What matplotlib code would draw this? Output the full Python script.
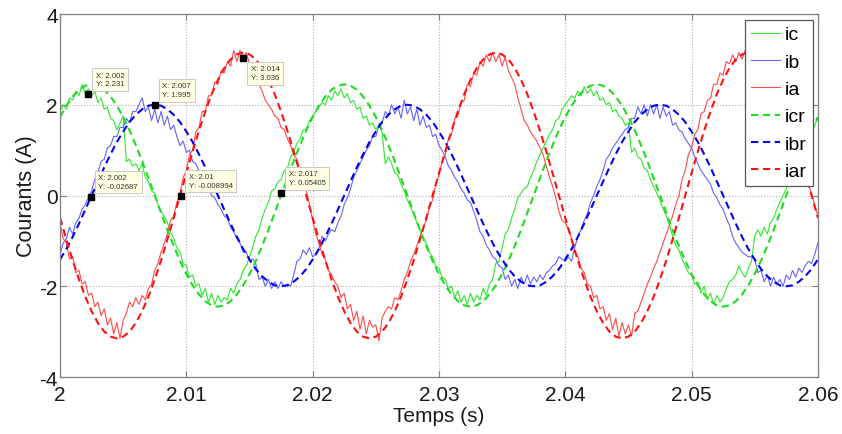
import numpy as np
import matplotlib
matplotlib.use("Agg")
import matplotlib.pyplot as plt

# ---------------- data ----------------
x_min, x_max = 2.0, 2.06
x_ticks = [2.0, 2.01, 2.02, 2.03, 2.04, 2.05, 2.06]
x_tick_labels = ["2", "2.01", "2.02", "2.03", "2.04", "2.05", "2.06"]
y_ticks = [-4, -2, 0, 2, 4]
y_tick_labels = ["-4", "-2", "0", "2", "4"]

# measured currents, one sample every 0.25 ms from 2.000 s to 2.060 s
ia = [
    -0.60, -0.95, -1.05, -1.40, -1.35, -1.70, -1.65, -1.95,
    -1.90, -2.20, -2.15, -2.45, -2.35, -2.65, -2.50, -2.85,
    -2.70, -3.05, -2.80, -3.15, -2.75, -2.60, -2.35, -2.45,
    -2.25, -2.40, -2.20, -2.30, -2.05, -1.95, -1.65, -1.50,
    -1.25, -1.05, -0.85, -0.55, -0.45, -0.15, 0.05, 0.40,
    0.55, 0.90, 1.00, 1.40, 1.50, 1.85, 1.85, 2.20,
    2.20, 2.50, 2.45, 2.75, 2.70, 2.95, 2.85, 3.20,
    2.95, 3.20, 3.05, 3.15, 2.90, 2.85, 2.60, 2.45,
    2.30, 2.10, 2.00, 1.90, 1.75, 1.70, 1.50, 1.45,
    1.25, 1.10, 0.90, 0.80, 0.55, 0.35, 0.10, -0.20,
    -0.55, -0.85, -1.05, -1.30, -1.40, -1.65, -1.75, -1.90,
    -2.00, -2.25, -2.15, -2.50, -2.40, -2.75, -2.55, -2.95,
    -2.65, -3.05, -2.75, -2.90, -2.85, -3.20, -2.70, -2.55,
    -2.45, -2.50, -2.25, -2.30, -2.10, -1.85, -1.70, -1.45,
    -1.30, -1.10, -0.90, -0.70, -0.55, -0.25, -0.10, 0.25,
    0.45, 0.75, 0.90, 1.25, 1.35, 1.70, 1.75, 2.05,
    2.10, 2.45, 2.40, 2.70, 2.65, 2.95, 2.85, 3.10,
    2.95, 3.15, 2.95, 3.10, 2.85, 3.05, 2.75, 2.60,
    2.45, 2.15, 1.90, 1.65, 1.55, 1.40, 1.30, 1.20,
    1.05, 0.90, 0.65, 0.40, 0.20, -0.05, -0.35, -0.55,
    -0.60, -0.75, -0.95, -1.25, -1.35, -1.60, -1.70, -1.95,
    -2.00, -2.25, -2.20, -2.50, -2.45, -2.75, -2.60, -2.95,
    -2.70, -3.10, -2.80, -3.05, -2.85, -3.10, -2.60, -2.55,
    -2.35, -2.15, -1.95, -1.80, -1.60, -1.45, -1.25, -1.05,
    -0.85, -0.65, -0.45, -0.20, 0.00, 0.35, 0.55, 0.90,
    1.05, 1.35, 1.45, 1.80, 1.85, 2.10, 2.15, 2.45,
    2.45, 2.70, 2.65, 2.95, 2.90, 3.10, 2.95, 3.15,
    3.00, 3.20, 3.00, 3.10, 2.85, 2.80, 2.55, 2.40,
    2.20, 2.05, 1.90, 1.75, 1.60, 1.50, 1.35, 1.20,
    1.05, 0.90, 0.70, 0.55, 0.40, 0.25, 0.05, -0.20,
    -0.45,
]
ib = [
    -1.30, -1.05, -0.95, -0.70, -0.85, -0.60, -0.50, -0.30,
    -0.20, -0.05, 0.10, 0.35, 0.50, 0.75, 0.80, 1.05,
    1.10, 1.30, 1.30, 1.50, 1.50, 1.70, 1.60, 1.85,
    1.85, 2.00, 2.15, 1.85, 1.95, 1.65, 1.90, 1.60,
    1.85, 1.55, 1.75, 1.45, 1.55, 1.30, 1.10, 1.20,
    0.95, 1.00, 0.75, 0.70, 0.55, 0.45, 0.25, 0.20,
    0.00, -0.05, -0.20, -0.30, -0.45, -0.50, -0.70, -0.80,
    -0.95, -1.05, -1.25, -1.25, -1.45, -1.40, -1.50, -1.85,
    -1.80, -2.00, -1.85, -2.05, -1.90, -2.05, -1.90, -2.00,
    -1.95, -2.00, -1.75, -1.45, -1.40, -1.20, -1.30, -1.15,
    -1.35, -1.30, -1.15, -0.90, -1.00, -0.85, -0.75, -0.80,
    -0.60, -0.45, -0.20, -0.05, 0.15, 0.40, 0.55, 0.70,
    0.85, 1.00, 1.10, 1.30, 1.30, 1.55, 1.60, 1.85,
    1.75, 2.00, 1.80, 1.95, 1.70, 2.10, 1.80, 1.95,
    1.65, 1.90, 1.55, 1.75, 1.50, 1.55, 1.30, 1.35,
    1.10, 1.00, 0.85, 0.65, 0.55, 0.40, 0.30, 0.15,
    0.05, -0.10, -0.15, -0.35, -0.55, -0.80, -0.90, -1.10,
    -1.20, -1.35, -1.40, -1.55, -1.60, -1.85, -1.75, -2.00,
    -1.85, -2.05, -1.80, -1.95, -1.75, -1.95, -1.80, -1.90,
    -1.75, -1.85, -1.70, -1.65, -1.55, -1.50, -1.35, -1.40,
    -1.45, -1.35, -1.45, -1.15, -0.90, -0.75, -0.55, -0.40,
    -0.15, 0.00, 0.20, 0.35, 0.55, 0.80, 0.90, 1.05,
    1.15, 1.25, 1.35, 1.45, 1.50, 1.70, 1.70, 1.95,
    1.80, 2.00, 1.75, 2.00, 1.80, 2.00, 1.70, 1.95,
    1.75, 1.85, 1.55, 1.60, 1.45, 1.40, 1.25, 1.15,
    1.05, 0.85, 0.70, 0.55, 0.45, 0.35, 0.25, 0.05,
    -0.05, -0.20, -0.30, -0.50, -0.65, -0.90, -1.05, -1.15,
    -1.25, -1.30, -1.35, -1.35, -1.40, -1.70, -1.65, -1.90,
    -1.75, -2.00, -1.80, -1.95, -1.85, -2.00, -1.75, -1.85,
    -1.65, -1.80, -1.60, -1.70, -1.55, -1.45, -1.50, -1.30,
    -1.05,
]
ic = [
    1.85, 2.00, 1.90, 2.15, 2.10, 2.30, 2.20, 2.45,
    2.25, 2.35, 2.20, 2.30, 2.05, 2.15, 1.90, 1.95,
    1.70, 1.65, 1.45, 1.60, 1.75, 0.75, 0.80, 0.65,
    0.70, 0.55, 0.70, 0.40, 0.30, 0.10, 0.05, -0.20,
    -0.35, -0.45, -0.60, -0.80, -0.95, -1.15, -1.25, -1.50,
    -1.55, -1.80, -1.75, -2.00, -1.95, -2.20, -2.05, -2.35,
    -2.15, -2.40, -2.20, -2.35, -2.25, -2.30, -2.05, -2.15,
    -1.95, -1.85, -1.65, -1.55, -1.35, -1.15, -0.90, -0.75,
    -0.50, -0.30, -0.15, 0.10, 0.15, 0.30, 0.35, 0.55,
    0.60, 0.85, 0.95, 1.15, 1.25, 1.45, 1.45, 1.65,
    1.75, 1.85, 1.95, 2.05, 2.00, 2.20, 2.10, 2.30,
    2.20, 2.35, 2.15, 2.25, 2.05, 2.10, 1.90, 1.95,
    1.70, 1.75, 1.55, 1.60, 1.45, 1.55, 1.40, 0.70,
    0.85, 0.70, 0.50, 0.45, 0.25, 0.10, -0.10, -0.25,
    -0.40, -0.60, -0.75, -0.95, -1.05, -1.25, -1.35, -1.55,
    -1.60, -1.80, -1.85, -2.05, -2.00, -2.25, -2.10, -2.35,
    -2.20, -2.40, -2.15, -2.35, -2.20, -2.30, -2.05, -2.20,
    -1.95, -1.85, -1.50, -1.45, -1.15, -0.85, -0.75, -0.50,
    -0.30, -0.05, 0.05, 0.15, 0.20, 0.40, 0.55, 0.75,
    0.90, 1.05, 1.20, 1.35, 1.45, 1.65, 1.70, 1.90,
    2.00, 2.10, 2.20, 2.15, 2.30, 2.20, 2.40, 2.25,
    2.35, 2.20, 2.30, 2.10, 2.15, 2.00, 2.05, 1.85,
    1.90, 1.75, 1.70, 1.55, 1.60, 0.95, 1.05, 0.85,
    0.80, 0.60, 0.55, 0.35, 0.20, 0.05, -0.10, -0.30,
    -0.45, -0.65, -0.90, -1.10, -1.20, -1.40, -1.55, -1.70,
    -1.75, -1.95, -1.90, -2.15, -2.00, -2.30, -2.15, -2.40,
    -2.20, -2.35, -2.25, -2.05, -1.90, -1.85, -1.75, -1.55,
    -1.70, -1.80, -1.60, -1.45, -0.90, -0.75, -0.90, -0.70,
    -0.85, -0.60, -0.50, -0.30, -0.15, 0.00, 0.15, 0.35,
    0.50, 0.70, 0.85, 1.00, 1.10, 1.30, 1.40, 1.55,
    1.70,
]

# reference currents, one sample every 0.5 ms from 2.000 s to 2.060 s
icr = [
    1.73, 1.98, 2.18, 2.33, 2.42, 2.45, 2.42, 2.33, 2.18, 1.98,
    1.73, 1.44, 1.11, 0.76, 0.38, 0.00, -0.38, -0.76, -1.11, -1.44,
    -1.73, -1.98, -2.18, -2.33, -2.42, -2.45, -2.42, -2.33, -2.18, -1.98,
    -1.73, -1.44, -1.11, -0.76, -0.38, 0.00, 0.38, 0.76, 1.11, 1.44,
    1.73, 1.98, 2.18, 2.33, 2.42, 2.45, 2.42, 2.33, 2.18, 1.98,
    1.73, 1.44, 1.11, 0.76, 0.38, 0.00, -0.38, -0.76, -1.11, -1.44,
    -1.73, -1.98, -2.18, -2.33, -2.42, -2.45, -2.42, -2.33, -2.18, -1.98,
    -1.73, -1.44, -1.11, -0.76, -0.38, 0.00, 0.38, 0.76, 1.11, 1.44,
    1.73, 1.98, 2.18, 2.33, 2.42, 2.45, 2.42, 2.33, 2.18, 1.98,
    1.73, 1.44, 1.11, 0.76, 0.38, 0.00, -0.38, -0.76, -1.11, -1.44,
    -1.73, -1.98, -2.18, -2.33, -2.42, -2.45, -2.42, -2.33, -2.18, -1.98,
    -1.73, -1.44, -1.11, -0.76, -0.38, 0.00, 0.38, 0.76, 1.11, 1.44,
    1.73,
]
ibr = [
    -1.41, -1.18, -0.91, -0.62, -0.31, 0.00, 0.31, 0.62, 0.91, 1.18,
    1.41, 1.62, 1.78, 1.90, 1.98, 2.00, 1.98, 1.90, 1.78, 1.62,
    1.41, 1.18, 0.91, 0.62, 0.31, 0.00, -0.31, -0.62, -0.91, -1.18,
    -1.41, -1.62, -1.78, -1.90, -1.98, -2.00, -1.98, -1.90, -1.78, -1.62,
    -1.41, -1.18, -0.91, -0.62, -0.31, 0.00, 0.31, 0.62, 0.91, 1.18,
    1.41, 1.62, 1.78, 1.90, 1.98, 2.00, 1.98, 1.90, 1.78, 1.62,
    1.41, 1.18, 0.91, 0.62, 0.31, 0.00, -0.31, -0.62, -0.91, -1.18,
    -1.41, -1.62, -1.78, -1.90, -1.98, -2.00, -1.98, -1.90, -1.78, -1.62,
    -1.41, -1.18, -0.91, -0.62, -0.31, 0.00, 0.31, 0.62, 0.91, 1.18,
    1.41, 1.62, 1.78, 1.90, 1.98, 2.00, 1.98, 1.90, 1.78, 1.62,
    1.41, 1.18, 0.91, 0.62, 0.31, 0.00, -0.31, -0.62, -0.91, -1.18,
    -1.41, -1.62, -1.78, -1.90, -1.98, -2.00, -1.98, -1.90, -1.78, -1.62,
    -1.41,
]
iar = [
    -0.49, -0.97, -1.43, -1.85, -2.23, -2.55, -2.81, -3.00, -3.11, -3.15,
    -3.11, -3.00, -2.81, -2.55, -2.23, -1.85, -1.43, -0.97, -0.49, 0.00,
    0.49, 0.97, 1.43, 1.85, 2.23, 2.55, 2.81, 3.00, 3.11, 3.15,
    3.11, 3.00, 2.81, 2.55, 2.23, 1.85, 1.43, 0.97, 0.49, 0.00,
    -0.49, -0.97, -1.43, -1.85, -2.23, -2.55, -2.81, -3.00, -3.11, -3.15,
    -3.11, -3.00, -2.81, -2.55, -2.23, -1.85, -1.43, -0.97, -0.49, 0.00,
    0.49, 0.97, 1.43, 1.85, 2.23, 2.55, 2.81, 3.00, 3.11, 3.15,
    3.11, 3.00, 2.81, 2.55, 2.23, 1.85, 1.43, 0.97, 0.49, 0.00,
    -0.49, -0.97, -1.43, -1.85, -2.23, -2.55, -2.81, -3.00, -3.11, -3.15,
    -3.11, -3.00, -2.81, -2.55, -2.23, -1.85, -1.43, -0.97, -0.49, 0.00,
    0.49, 0.97, 1.43, 1.85, 2.23, 2.55, 2.81, 3.00, 3.11, 3.15,
    3.11, 3.00, 2.81, 2.55, 2.23, 1.85, 1.43, 0.97, 0.49, 0.00,
    -0.49,
]

# data tips
tip_x = [2.00224, 2.0075, 2.0145, 2.00243, 2.00957, 2.0175]
tip_y = [2.231, 1.995, 3.036, -0.02687, -0.008994, 0.05405]
tip_labels = ["X: 2.002\nY: 2.231", "X: 2.007\nY: 1.995", "X: 2.014\nY: 3.036",
              "X: 2.002\nY: -0.02687", "X: 2.01\nY: -0.008994", "X: 2.017\nY: 0.05405"]
tip_below = [False, False, True, False, False, False]

t_meas = np.linspace(x_min, x_max, len(ia))
t_ref = np.linspace(x_min, x_max, len(iar))

# ---------------- figure ----------------
plt.rcParams['font.family'] = ['Liberation Sans', 'DejaVu Sans']
fig = plt.figure(figsize=(8.42, 4.35), dpi=100)
ax = fig.add_axes([0.0713, 0.131, 0.900, 0.8345])

lw_s = 0.8
ax.plot(t_meas, ic, color='#2ee82e', lw=lw_s, label='ic')
ax.plot(t_meas, ib, color='#6464ff', lw=lw_s, label='ib')
ax.plot(t_meas, ia, color='#ff4a4a', lw=lw_s, label='ia')
dash = (0, (3.5, 2.2))
ax.plot(t_ref, icr, color='#1fdc1f', lw=1.5, ls=dash, label='icr')
ax.plot(t_ref, ibr, color='#0000f5', lw=1.5, ls=dash, label='ibr')
ax.plot(t_ref, iar, color='#ff1010', lw=1.5, ls=dash, label='iar')

ax.set_xlim(x_min, x_max)
ax.set_ylim(-4, 4)
ax.set_xticks(x_ticks)
ax.set_xticklabels(x_tick_labels)
ax.set_yticks(y_ticks)
ax.set_yticklabels(y_tick_labels)
ax.tick_params(direction='in', length=4, width=0.8, color='#808080',
               labelsize=15, labelcolor='#1a1a1a', top=True, right=True)
ax.tick_params(axis='y', pad=1.5)
ax.tick_params(axis='x', pad=6)
for sp in ax.spines.values():
    sp.set_color('#808080')
    sp.set_linewidth(0.9)
ax.grid(True, ls=':', color='#b0b0b0', lw=0.8)
ax.set_axisbelow(True)

ax.set_xlabel('Temps (s)', fontsize=15, color='#1a1a1a', labelpad=1)
ax.set_ylabel('Courants (A)', fontsize=15.5, color='#1a1a1a', labelpad=2)

# data tips
for x, y, lab, below in zip(tip_x, tip_y, tip_labels, tip_below):
    ax.plot([x], [y], marker='s', color='black', ms=4.5, ls='none', zorder=6)
    ax.annotate(lab, xy=(x, y), xytext=(5.5, -5.5 if below else 5.0),
                textcoords='offset points', ha='left',
                va='top' if below else 'bottom', fontsize=5.6, color='#333333',
                linespacing=1.35, zorder=7,
                bbox=dict(boxstyle='square,pad=0.45', fc='#ffffe3',
                          ec='#c8c8c8', lw=0.7))

leg = ax.legend(loc='upper right', bbox_to_anchor=(0.9934, 0.9835),
                fontsize=14, labelspacing=0.5, handlelength=1.5,
                handletextpad=0.25, borderpad=0.3, borderaxespad=0.0,
                fancybox=False, framealpha=1.0, edgecolor='#555555')
leg.get_frame().set_linewidth(0.9)
leg.set_zorder(10)

fig.savefig('out.png', dpi=100)
